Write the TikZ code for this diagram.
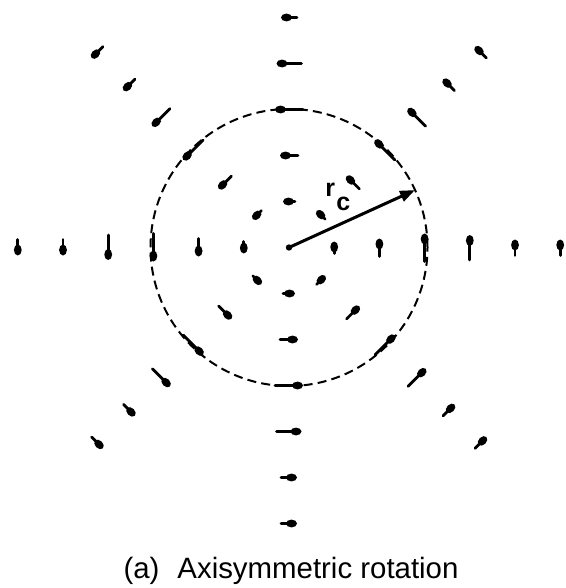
\documentclass[tikz,border=0pt]{standalone}
\usepackage{fontspec}
\setmainfont{Liberation Sans}
\setsansfont{Liberation Sans}
\usetikzlibrary{arrows.meta,calc}
\begin{document}
\begin{tikzpicture}[x=0.5pt,y=0.5pt,
  vel/.style={line width=1.4pt, line cap=round},
  ring/.style={line width=1pt, dash pattern=on 4.5pt off 2.6pt},
  radius arrow/.style={line width=1.5pt, -{Triangle[length=7.5pt,width=5.5pt]}},
  lab/.style={font=\sffamily\bfseries\fontsize{12.5}{15}\selectfont, inner sep=0pt, anchor=base west},
  captext/.style={font=\sffamily\fontsize{14.7}{17}\selectfont, inner sep=0pt, anchor=base}]
\fill[white] (0,0) rectangle (566,-588);
\useasboundingbox (0,0) rectangle (566,-588);
\coordinate (O) at (289,-247.5);
\draw[ring] (O) circle[radius=138.5];
\begin{scope}[shift={(O)}]
\foreach \k/\L/\A in {1/12/-1,2/18/-1,3/28/-1,4/25/-1,5/16/-1,6/16/90}{
  \foreach \t in {0,45,...,315}{
    \ifnum\t=\A\relax\else
    \begin{scope}[shift={({\k*45.2*cos(\t)},{\k*46*sin(\t)})}, rotate=\t+90]
      \draw[vel] (-\L/2,0) -- (\L/2-4,0);
      \fill (\L/2-5.5,0) ellipse[x radius=5.5, y radius=3.9];
    \end{scope}
    \fi
  }
}
\end{scope}
\coordinate (R) at ($(O)+(24.5:138.5)$);
\draw[radius arrow] (O) -- (R);
\fill (O) circle[radius=3.2];
\node[lab] (rlab) at (325,-197) {r};
\node[lab] (clab) at (336,-211) {c};
\node[captext] (caption) at (291,-578) {(a)\hspace{9pt}Axisymmetric rotation};
\end{tikzpicture}
\end{document}
